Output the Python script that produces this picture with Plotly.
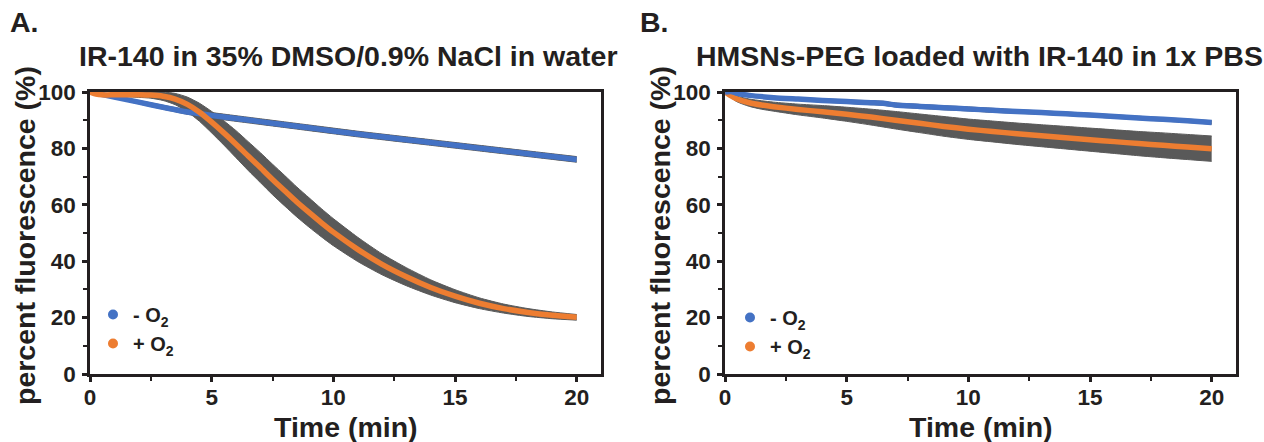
import numpy as np
import plotly.graph_objects as go

# ---------------- data ----------------
# Panel A: IR-140 in 35% DMSO/0.9% NaCl in water
tA_minus = [0, 1, 2, 3, 4, 4.5, 5, 6, 7, 8, 9, 10, 11, 12, 13, 14, 15, 16, 17, 18, 19, 20]
yA_minus = [100, 98.2, 96.4, 94.6, 92.9, 92.3, 91.7, 90.6, 89.5, 88.4, 87.3, 86.2, 85.1, 84.1, 83.1, 82.1, 81.1, 80.1, 79.1, 78.1, 77.1, 76.1]
eA_minus = [0, 0.4, 0.6, 0.7, 0.8, 0.9, 1.0, 1.0, 1.0, 1.0, 1.0, 1.0, 1.0, 1.0, 1.0, 1.0, 1.0, 1.0, 1.0, 1.0, 1.0, 1.0]

tA_plus = [0, 0.25, 0.5, 1, 1.5, 2, 2.5, 3, 3.5, 4, 4.5, 5, 5.5, 6, 6.5, 7, 7.5, 8, 8.5, 9, 9.5, 10,
           11, 12, 13, 14, 15, 16, 17, 18, 19, 20]
yA_plus = [100, 99.3, 99.0, 99.0, 99.0, 99.0, 98.9, 98.5, 97.5, 95.6, 92.8, 89.3, 85.5, 81.5, 77.3, 73.2,
           69.0, 65.0, 61.0, 57.3, 53.7, 50.3, 44.2, 38.9, 34.5, 30.7, 27.6, 25.1, 23.2, 21.8, 20.8, 20.1]
eA_plus = [0, 0.3, 0.4, 0.5, 0.7, 0.9, 1.1, 1.5, 2.0, 2.6, 3.2, 3.8, 4.3, 4.8, 5.1, 5.3, 5.4, 5.4, 5.3, 5.2,
           5.0, 4.8, 4.3, 3.7, 3.2, 2.7, 2.3, 1.9, 1.6, 1.4, 1.2, 1.0]

# Panel B: HMSNs-PEG loaded with IR-140 in 1x PBS
tB_minus = [0, 0.25, 0.5, 1, 2, 3, 4, 5, 6, 6.5, 7, 8, 9, 10, 11, 12, 13, 14, 15, 16, 17, 18, 19, 20]
yB_minus = [100, 100.2, 99.5, 98.8, 98.0, 97.5, 97.0, 96.6, 96.2, 96.0, 95.4, 94.9, 94.4, 94.0, 93.5, 93.1,
            92.7, 92.3, 91.8, 91.3, 90.8, 90.3, 89.8, 89.2]
eB_minus = [0, 0.2, 0.3, 0.4, 0.5, 0.5, 0.6, 0.6, 0.7, 0.7, 0.7, 0.7, 0.7, 0.7, 0.7, 0.6, 0.6, 0.6, 0.6,
            0.6, 0.6, 0.6, 0.6, 0.6]

tB_plus = [0, 0.25, 0.5, 1, 1.5, 2, 3, 4, 5, 6, 7, 8, 9, 10, 11, 12, 13, 14, 15, 16, 17, 18, 19, 20]
yB_plus = [100, 98.6, 97.5, 96.2, 95.4, 94.8, 93.8, 93.0, 92.1, 91.1, 90.0, 88.9, 87.8, 86.8, 86.0, 85.2,
           84.5, 83.8, 83.1, 82.4, 81.7, 81.1, 80.5, 79.9]
eB_plus = [0, 0.6, 1.0, 1.3, 1.5, 1.6, 1.9, 2.2, 2.5, 2.8, 3.1, 3.3, 3.5, 3.6, 3.7, 3.8, 3.9, 4.0, 4.1,
           4.2, 4.3, 4.4, 4.45, 4.5]

x_ticks = [0, 5, 10, 15, 20]
y_ticks = [0, 20, 40, 60, 80, 100]

# ---------------- styling ----------------
BLUE = "#4472C4"
ORANGE = "#ED7D31"
GRAY = "#595959"
INK = "#231f20"
FONT = "Liberation Sans"

fig = go.Figure()


def add_series(t, y, e, xa, ya):
    t = np.asarray(t, float)
    y = np.asarray(y, float)
    e = np.asarray(e, float)
    fig.add_trace(go.Scatter(x=t, y=y - e, mode="lines", xaxis=xa, yaxis=ya,
                             line=dict(color=GRAY, width=1, shape="spline", smoothing=0.6),
                             showlegend=False, hoverinfo="skip"))
    fig.add_trace(go.Scatter(x=t, y=y + e, mode="lines", xaxis=xa, yaxis=ya, fill="tonexty",
                             fillcolor=GRAY,
                             line=dict(color=GRAY, width=1, shape="spline", smoothing=0.6),
                             showlegend=False, hoverinfo="skip"))


def add_line(t, y, color, xa, ya):
    fig.add_trace(go.Scatter(x=t, y=y, mode="lines", xaxis=xa, yaxis=ya,
                             line=dict(color=color, width=5.5, shape="spline", smoothing=0.6),
                             showlegend=False))


# panel A
add_series(tA_plus, yA_plus, eA_plus, "x", "y")
add_series(tA_minus, yA_minus, eA_minus, "x", "y")
add_line(tA_minus, yA_minus, BLUE, "x", "y")
add_line(tA_plus, yA_plus, ORANGE, "x", "y")
# panel B
add_series(tB_plus, yB_plus, eB_plus, "x2", "y2")
add_series(tB_minus, yB_minus, eB_minus, "x2", "y2")
add_line(tB_plus, yB_plus, ORANGE, "x2", "y2")
add_line(tB_minus, yB_minus, BLUE, "x2", "y2")

# legend entries
for name, color, lg, xa, ya in [("- O<sub>2</sub>", BLUE, "legend", "x", "y"),
                                ("+ O<sub>2</sub>", ORANGE, "legend", "x", "y"),
                                ("- O<sub>2</sub>", BLUE, "legend2", "x2", "y2"),
                                ("+ O<sub>2</sub>", ORANGE, "legend2", "x2", "y2")]:
    fig.add_trace(go.Scatter(x=[None], y=[None], mode="markers", name=name, legend=lg,
                             xaxis=xa, yaxis=ya,
                             marker=dict(color=color, size=10, symbol="circle")))

W, H = 1264, 442
A_L, A_R = 90, 601
B_L, B_R = 725, 1236
P_T, P_B = 92, 374

axis_common = dict(
    showline=True, linecolor=INK, linewidth=2.5, mirror=True,
    showgrid=False, zeroline=False, automargin=False,
    ticks="outside", ticklen=5, tickwidth=2.5, tickcolor=INK,
    tickfont=dict(family=FONT, size=22.5, color=INK, weight="bold"),
)

xcommon = dict(axis_common, range=[0, 21], tickvals=x_ticks, ticklabelstandoff=-4,
               minor=dict(ticks="outside", ticklen=4, tickwidth=2, tickcolor=INK, dtick=2.5, tick0=0,
                          showgrid=False))
ycommon = dict(axis_common, range=[0, 100], tickvals=y_ticks, ticklabelstandoff=2,
               minor=dict(ticks="outside", ticklen=4, tickwidth=2, tickcolor=INK, dtick=10, tick0=0,
                          showgrid=False))

ydom = [1 - P_B / H, 1 - P_T / H]

legend_font = dict(family=FONT, size=20, color=INK, weight="bold")
fig.update_layout(
    width=W, height=H,
    margin=dict(l=0, r=0, t=0, b=0, autoexpand=False),
    paper_bgcolor="white", plot_bgcolor="white",
    font=dict(family=FONT, color=INK),
    xaxis=dict(xcommon, domain=[A_L / W, A_R / W], anchor="y"),
    yaxis=dict(ycommon, domain=ydom, anchor="x"),
    xaxis2=dict(xcommon, domain=[B_L / W, B_R / W], anchor="y2"),
    yaxis2=dict(ycommon, domain=ydom, anchor="x2"),
    legend=dict(x=93 / W, y=1 - 329 / H, xanchor="left", yanchor="middle", traceorder="normal",
                bgcolor="rgba(0,0,0,0)", borderwidth=0, tracegroupgap=0, font=legend_font),
    legend2=dict(x=730 / W, y=1 - 332 / H, xanchor="left", yanchor="middle", traceorder="normal",
                 bgcolor="rgba(0,0,0,0)", borderwidth=0, tracegroupgap=0, font=legend_font),
    showlegend=True,
)

bold = dict(family=FONT, size=28.5, color=INK, weight="bold")
ann = [
    dict(text="A.", x=8 / W, y=1 - 22 / H, xanchor="left", yanchor="middle", font=bold),
    dict(text="B.", x=638 / W, y=1 - 22 / H, xanchor="left", yanchor="middle", font=bold),
    dict(text="IR-140 in 35% DMSO/0.9% NaCl in water", x=349 / W, y=1 - 56 / H,
         xanchor="center", yanchor="middle", font=bold),
    dict(text="HMSNs-PEG loaded with IR-140 in 1x PBS", x=979 / W, y=1 - 56 / H,
         xanchor="center", yanchor="middle", font=bold),
    dict(text="percent fluorescence (%)", x=25 / W, y=1 - 236 / H, textangle=-90,
         xanchor="center", yanchor="middle", font=bold),
    dict(text="percent fluorescence (%)", x=660 / W, y=1 - 236 / H, textangle=-90,
         xanchor="center", yanchor="middle", font=bold),
    dict(text="Time (min)", x=(A_L + A_R) / 2 / W, y=1 - 427 / H,
         xanchor="center", yanchor="middle", font=bold),
    dict(text="Time (min)", x=(B_L + B_R) / 2 / W, y=1 - 427 / H,
         xanchor="center", yanchor="middle", font=bold),
]
for a in ann:
    a.update(xref="paper", yref="paper", showarrow=False)
fig.update_layout(annotations=ann)

fig.write_html("out.html")
